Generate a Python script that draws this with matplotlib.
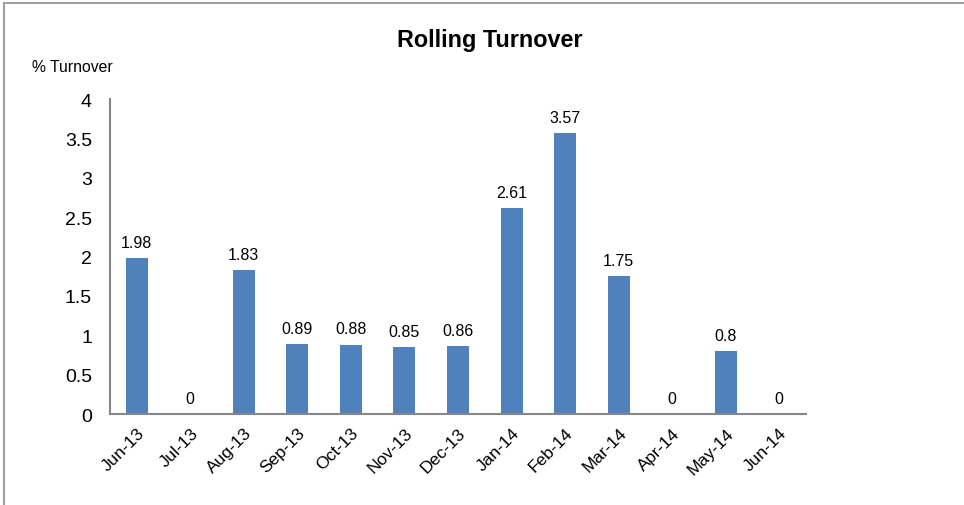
import matplotlib
matplotlib.use("Agg")
import matplotlib.pyplot as plt
from matplotlib.lines import Line2D

plt.rcParams['font.family'] = ['Liberation Sans', 'DejaVu Sans']

months = ["Jun-13", "Jul-13", "Aug-13", "Sep-13", "Oct-13", "Nov-13", "Dec-13",
          "Jan-14", "Feb-14", "Mar-14", "Apr-14", "May-14", "Jun-14"]
turnover = [1.98, 0, 1.83, 0.89, 0.88, 0.85, 0.86, 2.61, 3.57, 1.75, 0, 0.8, 0]
yticks = [0, 0.5, 1, 1.5, 2, 2.5, 3, 3.5, 4]
ytick_labels = ["0", "0.5", "1", "1.5", "2", "2.5", "3", "3.5", "4"]

W, H = 964, 506
fig = plt.figure(figsize=(W / 100, H / 100), dpi=100)
ax = fig.add_axes([110 / W, 1 - 415 / H, (806 - 110) / W, (415 - 100) / H])

x = list(range(len(months)))
ax.bar(x, turnover, width=0.41, color="#4F81BD", zorder=2)
for xi, v in zip(x, turnover):
    lab = "0" if v == 0 else f"{v:g}"
    ax.annotate(lab, (xi, v), xytext=(0, 6), textcoords="offset points",
                ha="center", va="bottom", fontsize=11.5, color="#000000")

ax.set_xlim(-0.5, len(months) - 0.5)
ax.set_ylim(0, 4)
ax.set_yticks(yticks)
ax.set_yticklabels(ytick_labels, fontsize=14)
ax.set_xticks(x)
ax.set_xticklabels(months, rotation=45, ha="right", rotation_mode="anchor", fontsize=12.5)
ax.tick_params(axis="both", length=0)
ax.tick_params(axis="y", pad=13)
ax.tick_params(axis="x", pad=8)
for s in ["top", "right"]:
    ax.spines[s].set_visible(False)
for s in ["left", "bottom"]:
    ax.spines[s].set_color("#868686")
    ax.spines[s].set_linewidth(1.5)

fig.text(490 / W, 1 - 40 / H, "Rolling Turnover", ha="center", va="center",
         fontsize=16.8, fontweight="bold")
fig.text(32 / W, 1 - 67 / H, "% Turnover", ha="left", va="center", fontsize=11.3)

# figure border (left and top only)
fig.add_artist(Line2D([4 / W, 4 / W], [0, 1 - 4 / H], transform=fig.transFigure,
                      color="#A0A0A0", lw=1.5))
fig.add_artist(Line2D([4 / W, 1], [1 - 4 / H, 1 - 4 / H], transform=fig.transFigure,
                      color="#A0A0A0", lw=1.5))

fig.savefig("out.png", dpi=100)
